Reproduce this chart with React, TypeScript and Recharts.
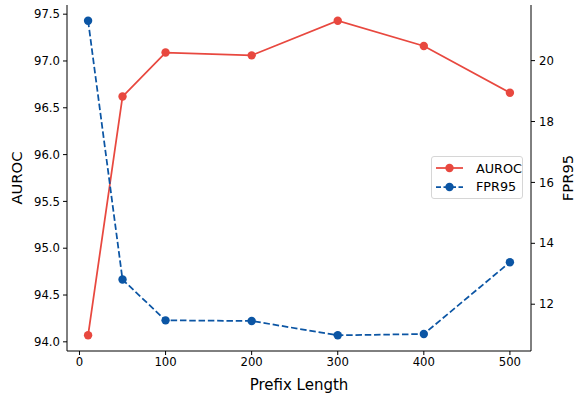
import { LineChart, Line, XAxis, YAxis, Legend } from "recharts";

// values
const prefixLengths = [10, 50, 100, 200, 300, 400, 500];
const aurocValues = [94.07, 96.62, 97.09, 97.06, 97.43, 97.16, 96.66];
const fpr95Values = [21.31, 12.81, 11.47, 11.45, 10.98, 11.02, 13.38];

const xTicks = [0, 100, 200, 300, 400, 500];
const aurocTicks = [94.0, 94.5, 95.0, 95.5, 96.0, 96.5, 97.0, 97.5];
const fprTicks = [12, 14, 16, 18, 20];

const RED = "#e8483f";
const BLUE = "#0b55a4";
const FONT = "DejaVu Sans, sans-serif";

// matplotlib-style 5% margins around the data
function padded(vals: number[]): [number, number] {
  const lo = Math.min(...vals);
  const hi = Math.max(...vals);
  const m = (hi - lo) * 0.05;
  return [lo - m, hi + m];
}

const data = prefixLengths.map((p, i) => ({
  prefix: p,
  auroc: aurocValues[i],
  fpr95: fpr95Values[i],
}));

const tickStyle = { fill: "#000", fontSize: 11.7, fontFamily: FONT };

function AxisTitle(props: any) {
  const { viewBox, value, dx } = props;
  const vb = viewBox || { x: 0, y: 0, width: 0, height: 0 };
  const x = vb.x + dx;
  const y = vb.y + vb.height / 2;
  return (
    <text
      x={x}
      y={y}
      transform={`rotate(-90, ${x}, ${y})`}
      textAnchor="middle"
      dominantBaseline="central"
      fontSize={14.8}
      fontFamily={FONT}
      fill="#000"
    >
      {value}
    </text>
  );
}

function LegendBox() {
  const rows = [
    { name: "AUROC", color: RED, dash: undefined },
    { name: "FPR95", color: BLUE, dash: "5 2.5" },
  ];
  return (
    <div
      style={{
        border: "1px solid #d6d6d6",
        borderRadius: 3,
        background: "rgba(255,255,255,0.8)",
        width: 92,
        height: 43,
        boxSizing: "border-box",
        paddingTop: 2,
      }}
    >
      {rows.map((r) => (
        <div key={r.name} style={{ display: "flex", alignItems: "center", height: 18.4 }}>
          <svg width={40} height={12} style={{ marginLeft: 4 }}>
            <line x1={0} y1={6} x2={27} y2={6} stroke={r.color} strokeWidth={1.75} strokeDasharray={r.dash} />
            <circle cx={13.5} cy={6} r={4.2} fill={r.color} />
          </svg>
          <span style={{ fontFamily: FONT, fontSize: 12.8, color: "#000", marginLeft: 0 }}>{r.name}</span>
        </div>
      ))}
    </div>
  );
}

export default function App() {
  return (
    <div style={{ position: "absolute", left: 0, top: 0, background: "#fff" }}>
      <LineChart width={576} height={394} data={data} margin={{ top: 5, right: 0, bottom: 0, left: 0 }}>
        <XAxis
          dataKey="prefix"
          type="number"
          domain={padded(prefixLengths)}
          allowDataOverflow
          ticks={xTicks}
          tick={tickStyle}
          tickSize={4}
          tickMargin={3}
          height={43}
          stroke="#000"
          label={{
            value: "Prefix Length",
            position: "insideBottom",
            offset: 4,
            fontSize: 15,
            fontFamily: FONT,
            fill: "#000",
          }}
        />
        <XAxis xAxisId="top" orientation="top" height={0} tick={false} tickLine={false} stroke="#000" />
        <YAxis
          yAxisId="left"
          type="number"
          width={67}
          domain={padded(aurocValues)}
          allowDataOverflow
          ticks={aurocTicks}
          tickFormatter={(v: number) => v.toFixed(1)}
          tick={tickStyle}
          tickSize={4}
          tickMargin={3}
          stroke="#000"
          label={<AxisTitle value="AUROC" dx={16.5} />}
        />
        <YAxis
          yAxisId="right"
          orientation="right"
          type="number"
          width={45}
          domain={padded(fpr95Values)}
          allowDataOverflow
          ticks={fprTicks}
          tick={tickStyle}
          tickSize={4}
          tickMargin={4}
          stroke="#000"
          label={<AxisTitle value="FPR95" dx={36.5} />}
        />
        <Legend
          layout="horizontal"
          verticalAlign="middle"
          align="center"
          content={() => <LegendBox />}
          wrapperStyle={{ position: "absolute", left: 431, top: 156, width: 92, height: 43 }}
        />
        <Line
          yAxisId="left"
          dataKey="auroc"
          name="AUROC"
          stroke={RED}
          strokeWidth={1.75}
          dot={{ r: 4.2, fill: RED, stroke: RED, strokeWidth: 0 }}
          activeDot={false}
          isAnimationActive={false}
        />
        <Line
          yAxisId="right"
          dataKey="fpr95"
          name="FPR95"
          stroke={BLUE}
          strokeWidth={1.75}
          strokeDasharray="6.5 2.8"
          dot={{ r: 4.2, fill: BLUE, stroke: BLUE, strokeWidth: 0, strokeDasharray: "" }}
          activeDot={false}
          isAnimationActive={false}
        />
      </LineChart>
    </div>
  );
}
